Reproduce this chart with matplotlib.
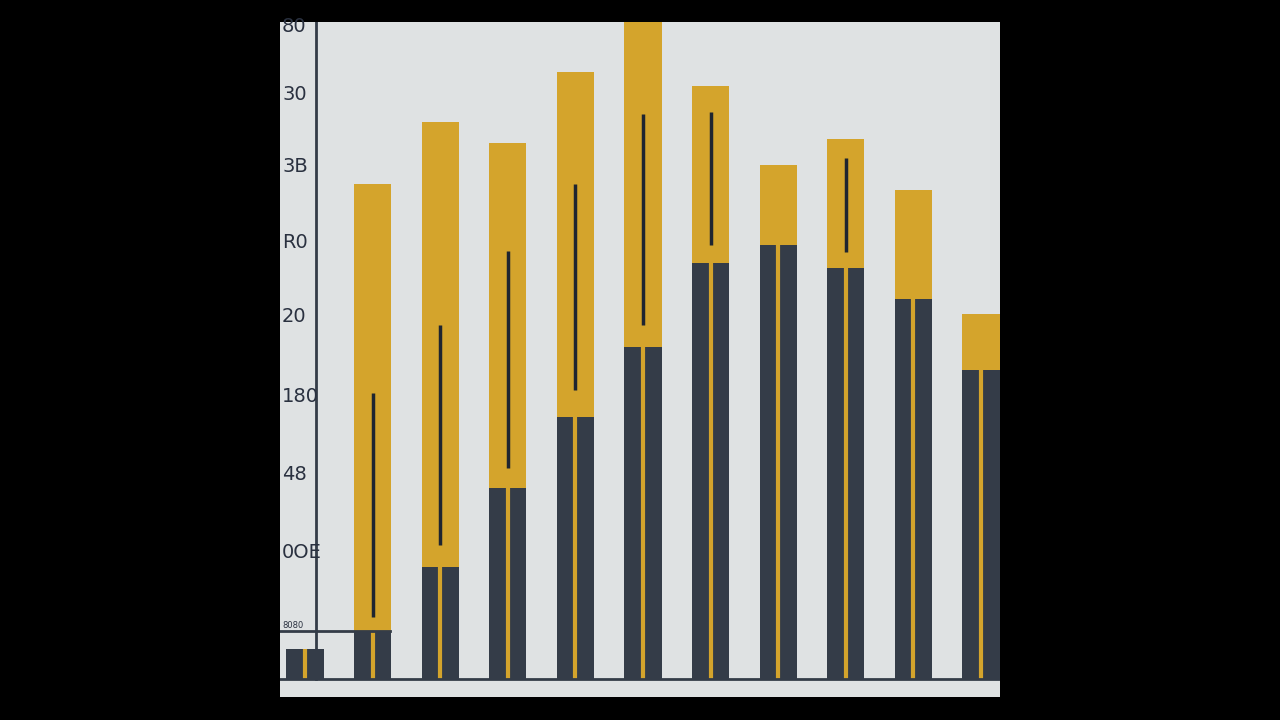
import matplotlib
matplotlib.use("Agg")
import matplotlib.pyplot as plt

cats = list(range(11))
dark = [30, 48, 112, 191, 262, 332, 416, 434, 411, 380, 309]
gold_top = [30, 495, 557, 536, 607, 657, 593, 514, 540, 489, 365]
line_lo = [None, 62, 134, 211, 289, 354, 434, None, 427, None, None]
line_hi = [None, 286, 354, 428, 495, 565, 567, None, 521, None, None]
tick_vals = [653, 584, 513, 437, 362, 282, 204, 127, 54]
tick_labels = ["80", "30", "3B", "R0", "20", "180", "48", "0OE", "8080"]

NAVY = "#343c48"
GOLD = "#d4a42c"
BG = "#dfe2e3"

fig = plt.figure(figsize=(12.8, 7.2), dpi=100, facecolor="black")
ax = fig.add_axes([280/1280, 23/720, 720/1280, 675/720])
ax.set_facecolor(BG)
ax.set_xlim(-0.37, 10.28)
ax.set_ylim(-18, 657)
for s in ax.spines.values():
    s.set_visible(False)
ax.set_xticks([]); ax.set_yticks([])

w = 0.55
gold_h = [t - d for t, d in zip(gold_top, dark)]
ax.bar(cats, dark, width=w, color=NAVY, zorder=2)
ax.bar(cats, gold_h, bottom=dark, width=w, color=GOLD, zorder=2)
ax.vlines(cats, 0, dark, color=GOLD, lw=3, zorder=3)
for i, (lo, hi) in enumerate(zip(line_lo, line_hi)):
    if lo is not None:
        ax.vlines(i, lo, hi, color="#1f2530", lw=2.5, zorder=3)

ax.plot([0.163, 0.163], [0, 657], color=NAVY, lw=2, zorder=1)
ax.axhline(0, color=NAVY, lw=2, zorder=4)
ax.plot([-0.37, 1.26], [48, 48], color=NAVY, lw=2, zorder=4)

for v, lab in zip(tick_vals, tick_labels):
    fs = 6 if lab == "8080" else 14
    ax.text(-0.34, v, lab, ha="left", va="center", fontsize=fs, color="#2a3140", zorder=5)

fig.savefig("out.png", dpi=100, facecolor="black")
